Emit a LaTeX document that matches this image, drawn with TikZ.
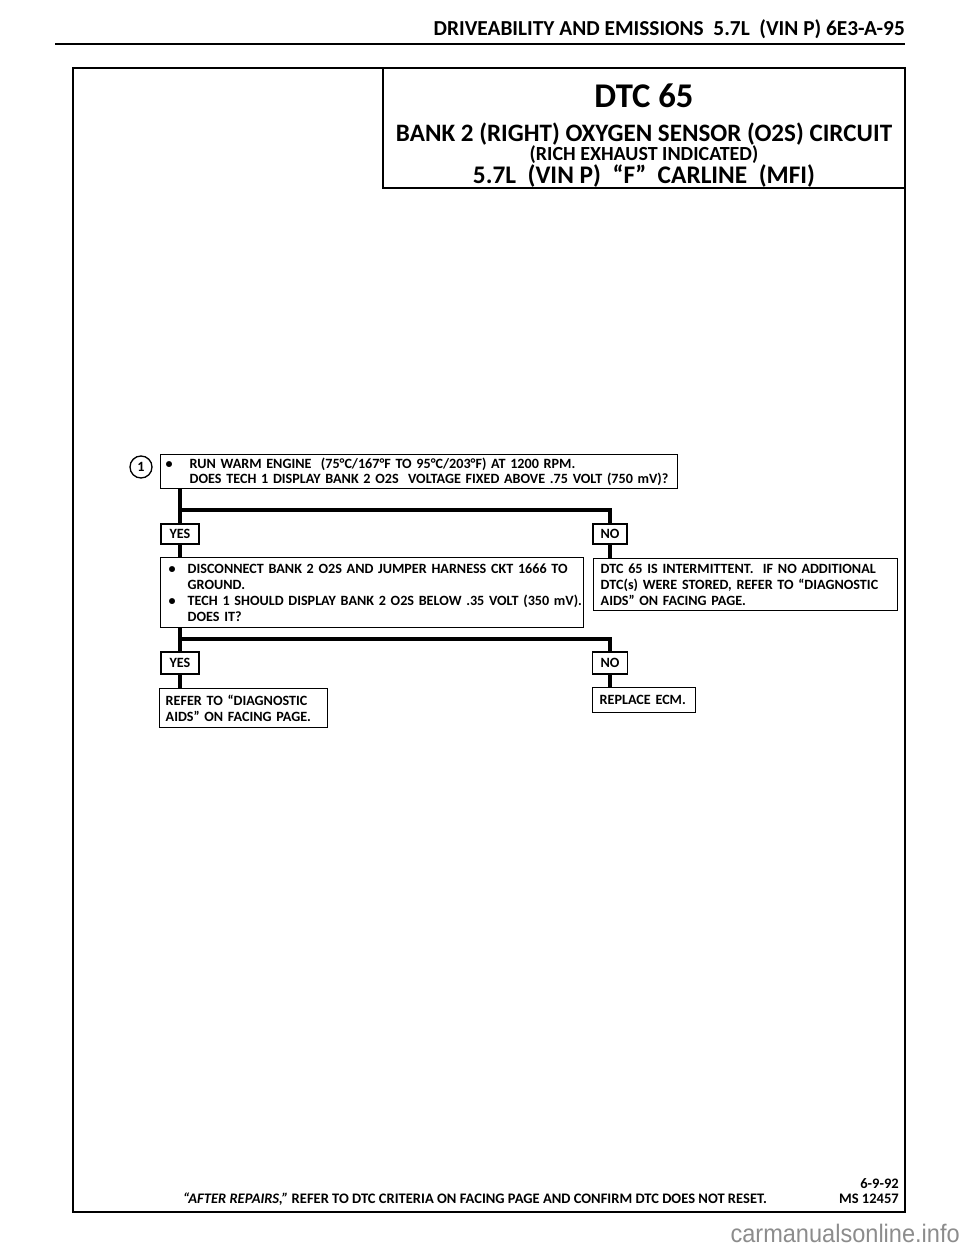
\documentclass[tikz,border=0pt]{standalone}
\usepackage{fontspec}
\setmainfont{Carlito}
\newfontfamily\wmfont{Liberation Sans}
\begin{document}
\begin{tikzpicture}[x=0.75pt,y=-0.75pt,
  frame/.style={line width=1.6pt},
  boxfont/.style={font=\fontsize{10.6}{11.8}\selectfont\bfseries},
  qbox/.style={draw, line width=1.1pt, anchor=north west, align=left, inner ysep=0pt, boxfont},
  ansbox/.style={draw, line width=1.1pt, inner sep=0pt, boxfont},
  bar/.style={line width=3pt},
  titletext/.style={inner sep=0pt, anchor=base, text depth=1pt},
]
\useasboundingbox (0,0) rectangle (960,1250);

% page header
\node[anchor=east, inner sep=0pt, font=\fontsize{16}{18}\selectfont\bfseries] (hdr) at (905,29) {DRIVEABILITY AND EMISSIONS\ \ 5.7L\ \ (VIN P) 6E3-A-95};
\draw[line width=1.5pt] (55,44) -- (905,44);

% frame and title box
\draw[frame] (73,68) rectangle (905,1212);
\draw[frame] (383,68) rectangle (905,188);
\node[titletext, text height=18pt, font=\fontsize{26}{28}\selectfont\bfseries] (dtc) at (644,107) {DTC 65};
\node[titletext, text height=12.5pt, font=\fontsize{18.8}{20}\selectfont\bfseries] (t1) at (644,141) {BANK 2 (RIGHT) OXYGEN SENSOR (O2S) CIRCUIT};
\node[titletext, text height=10pt, font=\fontsize{15}{17}\selectfont\bfseries] (t2) at (644,160) {(RICH EXHAUST INDICATED)};
\node[titletext, text height=12.5pt, font=\fontsize{19}{21}\selectfont\bfseries] (t3) at (644,183) {5.7L\ \ (VIN P)\ \ “F”\ \ CARLINE\ \ (MFI)};

% step 1
\node[draw, circle, line width=1pt, minimum size=16.5pt, inner sep=0pt, boxfont] (c1) at (141,467) {1};
\node[qbox, minimum width=387.75pt, minimum height=25.5pt, inner xsep=3.75pt, text width=380.25pt] (box1) at (160,454)
 {\mbox{\makebox[18pt][l]{•}RUN WARM ENGINE\ \ (75°C/167°F TO 95°C/203°F) AT 1200 RPM.}\\
  \mbox{\hspace*{18pt}DOES TECH 1 DISPLAY BANK 2 O2S\ \ VOLTAGE FIXED ABOVE .75 VOLT (750 mV)?}};

\node[ansbox, minimum width=28.5pt, minimum height=15pt] (yes1) at (180,534) {YES};
\node[ansbox, minimum width=25.5pt, minimum height=15pt] (no1) at (610,534) {NO};
\coordinate (h1) at (180,510);
\draw[bar] (yes1.north |- box1.south) -- (yes1.north);
\draw[bar] (h1) -| (no1.north);

% step 2
\node[qbox, minimum width=317.25pt, minimum height=52.5pt, inner xsep=6pt, text width=305.25pt] (box2) at (160,557)
 {\mbox{\makebox[14.25pt][l]{•}DISCONNECT BANK 2 O2S AND JUMPER HARNESS CKT 1666 TO}\\
  \mbox{\hspace*{14.25pt}GROUND.}\\
  \mbox{\makebox[14.25pt][l]{•}TECH 1 SHOULD DISPLAY BANK 2 O2S BELOW .35 VOLT (350 mV).}\\
  \mbox{\hspace*{14.25pt}DOES IT?}};
\node[qbox, minimum width=228pt, minimum height=39pt, inner xsep=5.25pt, text width=217.5pt] (box3) at (593,558)
 {\mbox{DTC 65 IS INTERMITTENT.\ \ IF NO ADDITIONAL}\\
  \mbox{DTC(s) WERE STORED, REFER TO “DIAGNOSTIC}\\
  \mbox{AIDS” ON FACING PAGE.}};
\draw[bar] (yes1.south) -- (yes1.south |- box2.north);
\draw[bar] (no1.south) -- (no1.south |- box3.north);

\node[ansbox, minimum width=28.5pt, minimum height=16.5pt] (yes2) at (180,663) {YES};
\node[ansbox, minimum width=26.25pt, minimum height=16.5pt] (no2) at (610,663) {NO};
\coordinate (h2) at (180,639);
\draw[bar] (yes2.north |- box2.south) -- (yes2.north);
\draw[bar] (h2) -| (no2.north);

% results
\node[qbox, minimum width=126pt, minimum height=29.25pt, inner xsep=4.5pt, text width=117pt] (box4) at (159,688)
 {\mbox{REFER TO “DIAGNOSTIC}\\ \mbox{AIDS” ON FACING PAGE.}};
\node[qbox, minimum width=77.25pt, minimum height=18.75pt, inner xsep=5.25pt, text width=66.75pt] (box5) at (592,687)
 {\mbox{REPLACE ECM.}};
\draw[bar] (yes2.south) -- (yes2.south |- box4.north);
\draw[bar] (no2.south) -- (no2.south |- box5.north);

% footer
\node[anchor=base, inner sep=0pt, font=\fontsize{10.9}{12}\selectfont\bfseries] (foot) at (475,1203)
 {\textit{“AFTER REPAIRS,”} REFER TO DTC CRITERIA ON FACING PAGE AND CONFIRM DTC DOES NOT RESET.};
\node[anchor=base east, inner sep=0pt, font=\fontsize{10.9}{12}\selectfont\bfseries] (date) at (899,1188) {6-9-92};
\node[anchor=base east, inner sep=0pt, font=\fontsize{10.9}{12}\selectfont\bfseries] (ms) at (899,1203) {MS 12457};

% watermark
\node[anchor=east, inner sep=0pt, text=black!45, font=\wmfont\fontsize{19}{20}\selectfont] (wm) at (960,1233)
 {\scalebox{0.93}[1]{carmanualsonline.info}};
\end{tikzpicture}
\end{document}
